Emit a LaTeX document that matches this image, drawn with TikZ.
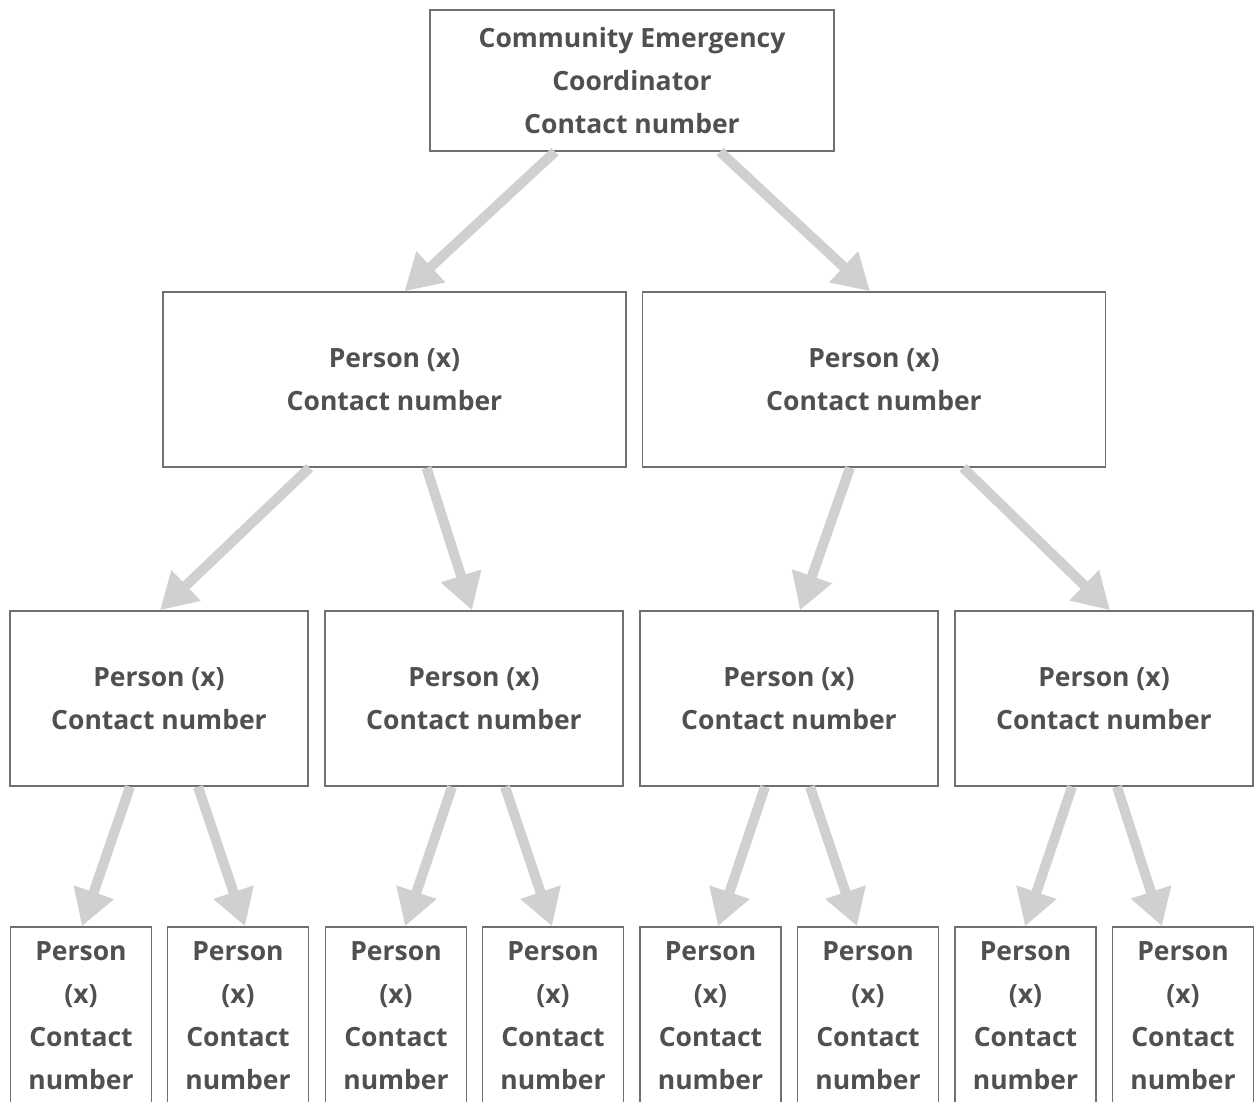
\documentclass[tikz,border=0pt]{standalone}
\usepackage{fontspec}
\setmainfont{Open Sans}
\usetikzlibrary{arrows.meta,calc}
\definecolor{txt}{HTML}{505050}
\definecolor{edge}{HTML}{707070}
\definecolor{arr}{HTML}{D0D0D2}
\begin{document}
\begin{tikzpicture}[x=1pt,y=-1pt,
  box/.style={draw=edge,line width=1.5pt,fill=white,inner sep=0pt,align=center,
    text=txt,font=\fontsize{26.5}{43}\selectfont\bfseries,anchor=center},
  top/.style={box,minimum width=404pt,minimum height=141pt},
  midbox/.style={box,minimum width=463pt,minimum height=175pt,text depth=0pt},
  lowbox/.style={box,minimum width=298pt,minimum height=175pt,text depth=0pt},
  leafbox/.style={box,minimum width=141pt,minimum height=220pt,text depth=0pt},
  link/.style={draw=arr,line width=10pt,-{Triangle[length=36pt,width=40pt]}}]
\useasboundingbox (0,0) rectangle (1258,1102);
\clip (0,0) rectangle (1258,1102);
% top
\node[top] (t) at (632,80.5) {Community Emergency\\Coordinator\\Contact number};
% level 2
\node[midbox] (a) at (394.5,379.5) {Person (x)\\Contact number};
\node[midbox] (b) at (874,379.5) {Person (x)\\Contact number};
% level 3
\node[lowbox] (a1) at (159,698.5) {Person (x)\\Contact number};
\node[lowbox] (a2) at (474,698.5) {Person (x)\\Contact number};
\node[lowbox] (b1) at (789,698.5) {Person (x)\\Contact number};
\node[lowbox] (b2) at (1104,698.5) {Person (x)\\Contact number};
% level 4
\foreach \n/\x in {l1/81,l2/238,l3/396,l4/553,l5/710.5,l6/868,l7/1025.5,l8/1183}
  \node[leafbox] (\n) at (\x,1037) {Person\\(x)\\Contact\\number\\[0pt]\phantom{x}};
% arrows
\draw[link] ($(t.south)+(-77,0)$) -- ($(a.north)+(10,0)$);
\draw[link] ($(t.south)+(88,0)$) -- ($(b.north)+(-4,0)$);
\draw[link] ($(a.south)+(-85,0)$) -- ($(a1.north)+(1,0)$);
\draw[link] ($(a.south)+(32,0)$) -- ($(a2.north)+(-2,0)$);
\draw[link] ($(b.south)+(-24,0)$) -- ($(b1.north)+(11,0)$);
\draw[link] ($(b.south)+(89,0)$) -- ($(b2.north)+(6,0)$);
\draw[link] ($(a1.south)+(-29,0)$) -- ($(l1.north)+(1,0)$);
\draw[link] ($(a1.south)+(39,0)$) -- ($(l2.north)+(7,0)$);
\draw[link] ($(a2.south)+(-22,0)$) -- ($(l3.north)+(9,0)$);
\draw[link] ($(a2.south)+(31,0)$) -- ($(l4.north)+(-1,0)$);
\draw[link] ($(b1.south)+(-24,0)$) -- ($(l5.north)+(7.5,0)$);
\draw[link] ($(b1.south)+(21,0)$) -- ($(l6.north)+(-11,0)$);
\draw[link] ($(b2.south)+(-32,0)$) -- ($(l7.north)+(-0.5,0)$);
\draw[link] ($(b2.south)+(13,0)$) -- ($(l8.north)+(-21,0)$);
\end{tikzpicture}
\end{document}
